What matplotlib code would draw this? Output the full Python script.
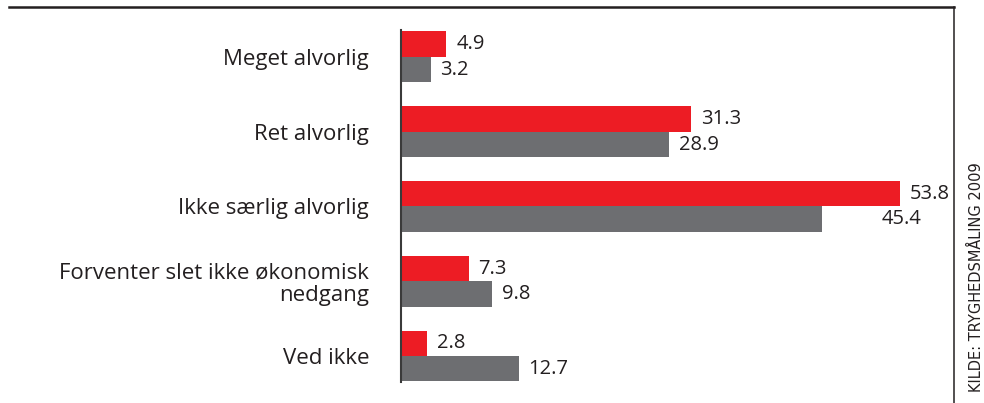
import matplotlib.pyplot as plt
from matplotlib.lines import Line2D

# data
categories = ['Meget alvorlig', 'Ret alvorlig', 'Ikke særlig alvorlig',
              'Forventer slet ikke økonomisk\nnedgang', 'Ved ikke']
serie_rod = [4.9, 31.3, 53.8, 7.3, 2.8]
serie_graa = [3.2, 28.9, 45.4, 9.8, 12.7]
kilde = 'KILDE: TRYGHEDSMÅLING 2009'

ROD = '#ed1c24'
GRAA = '#6d6e71'
TEKST = '#231f20'

plt.rcParams['font.family'] = ['Open Sans', 'DejaVu Sans']

W, H = 984, 403
fig = plt.figure(figsize=(W / 100, H / 100), dpi=100)

# axes placeret i pixel
x0, x1 = 401, 953
y_top, y_bot = 30, 382
ax = fig.add_axes([x0 / W, (H - y_bot) / H, (x1 - x0) / W, (y_bot - y_top) / H])

px_per_unit = 9.27
ax.set_xlim(0, (x1 - x0) / px_per_unit)
step = 74.75
ax.set_ylim(4 + 26 / step, -27 / step)

pos = list(range(len(categories)))
h = 25.5 / step
ax.barh([p - h / 2 for p in pos], serie_rod, height=h, color=ROD)
ax.barh([p + h / 2 for p in pos], serie_graa, height=h, color=GRAA)

for i, (r, g) in enumerate(zip(serie_rod, serie_graa)):
    ax.annotate(f'{r}', (r, i - h / 2), xytext=(7, 0), textcoords='offset points',
                va='center', ha='left', fontsize=14.5, color=TEKST)
    # 45.4 er rykket ud i originalen
    extra = 36 if g == 45.4 else 0
    ax.annotate(f'{g}', (g, i + h / 2), xytext=(7 + extra, 0), textcoords='offset points',
                va='center', ha='left', fontsize=14.5, color=TEKST)

ax.set_yticks(pos)
ax.set_yticklabels(categories, fontsize=16, color=TEKST, linespacing=1.05)
ax.tick_params(axis='y', length=0, pad=23)
ax.set_xticks([])
for s in ['top', 'right', 'bottom']:
    ax.spines[s].set_visible(False)
ax.spines['left'].set_color('#3a3a3a')
ax.spines['left'].set_linewidth(1.5)

# ramme: top og højre
fig.add_artist(Line2D([9 / W, 954 / W], [1 - 6.5 / H, 1 - 6.5 / H], color=TEKST, lw=1.8,
                      transform=fig.transFigure))
fig.add_artist(Line2D([953.5 / W, 953.5 / W], [1 - 6.5 / H, 0], color=TEKST, lw=1.1,
                      transform=fig.transFigure))

fig.text(976 / W, 1 - 162 / H, kilde, rotation=90, ha='center', va='top',
         fontsize=10.5, color=TEKST, family='DejaVu Sans')

fig.savefig('out.png', dpi=100)
